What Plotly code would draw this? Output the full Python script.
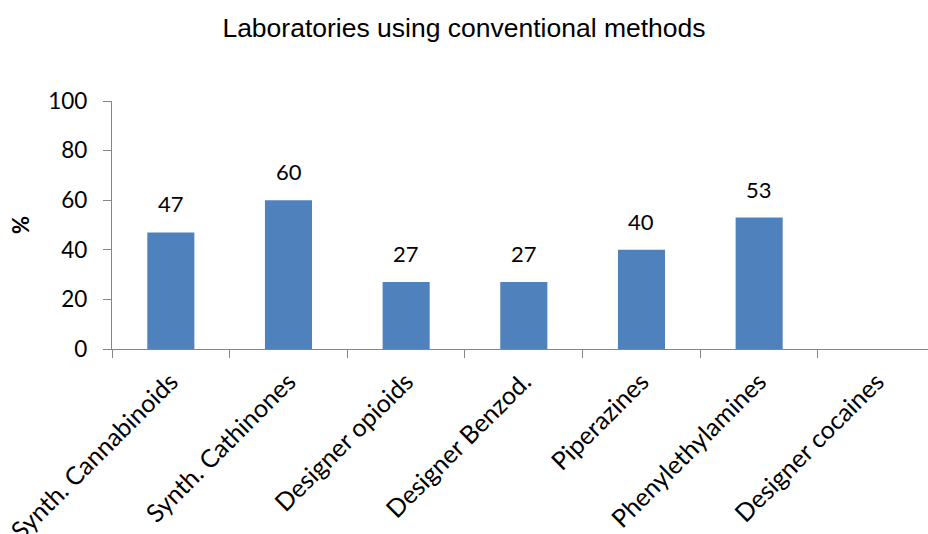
import plotly.graph_objects as go

categories = ["Synth. Cannabinoids", "Synth. Cathinones", "Designer opioids",
              "Designer Benzod.", "Piperazines", "Phenylethylamines", "Designer cocaines"]
values = [47, 60, 27, 27, 40, 53, None]
y_ticks = [0, 20, 40, 60, 80, 100]

title_text = "Laboratories using conventional methods"
y_title = "%"

bar_color = "#4F81BD"
axis_color = "#868686"
label_font = "Lato, 'Open Sans', sans-serif"

fig = go.Figure()
fig.add_trace(go.Bar(x=categories, y=values, marker=dict(color=bar_color, line=dict(width=0)),
                     hoverinfo="x+y"))

for c, v in zip(categories, values):
    if v is None:
        continue
    fig.add_annotation(x=c, y=v, text=str(v), showarrow=False, yanchor="bottom",
                       yshift=13, font=dict(family=label_font, size=22, color="#000000"))

fig.update_layout(
    width=928, height=534,
    margin=dict(l=112, r=0, t=101, b=185, pad=0),
    paper_bgcolor="white", plot_bgcolor="white",
    bargap=0.6,
    showlegend=False,
    title=dict(text=title_text, x=0.5, xanchor="center", y=0.949, yanchor="middle",
               font=dict(family="Liberation Sans, Arial, sans-serif", size=26.5, color="#000000")),
    xaxis=dict(
        type="category", range=[-0.5, 6.435], automargin=False,
        showline=True, linecolor=axis_color, linewidth=1.3,
        ticks="outside", ticklen=8, tickcolor=axis_color, tickwidth=1.3,
        tickson="boundaries", tickangle=-45, ticklabelstandoff=7,
        tickfont=dict(family=label_font, size=25, color="#000000"),
        showgrid=False, zeroline=False,
    ),
    yaxis=dict(
        range=[0, 100], tickvals=y_ticks, automargin=False,
        showline=True, linecolor=axis_color, linewidth=1.3,
        ticks="outside", ticklen=8, tickcolor=axis_color, tickwidth=1.3,
        ticklabelstandoff=11,
        tickfont=dict(family=label_font, size=22.5, color="#000000"),
        showgrid=False, zeroline=False,
        title=dict(text="<b>" + y_title + "</b>", standoff=12,
                   font=dict(family=label_font, size=22, color="#000000")),
    ),
)

fig.write_html("out.html",
               config={"displayModeBar": False},
               post_script="document.body.style.margin='0';document.body.style.overflow='hidden';")
